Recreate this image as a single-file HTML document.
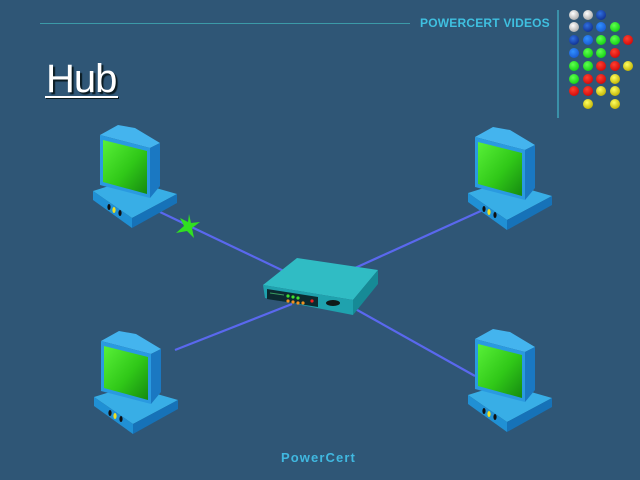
<!DOCTYPE html>
<html><head><meta charset="utf-8">
<style>
html,body{margin:0;padding:0;}
body{width:640px;height:480px;overflow:hidden;background:#2f5676;position:relative;font-family:"Liberation Sans",sans-serif;}
svg{position:absolute;left:0;top:0;}
.title{position:absolute;left:46px;top:55px;font-size:40px;letter-spacing:-1px;color:#ffffff;text-shadow:2px 2px 1px #0a1a20;line-height:48px;}
.uline{position:absolute;left:45px;top:96px;width:73px;height:2px;background:#fff;box-shadow:1px 1px 0 #0a1a20;}
.brand{position:absolute;left:420px;top:16px;font-size:12px;font-weight:bold;color:#3fc0e0;letter-spacing:0.2px;line-height:14px;}
.foot{position:absolute;left:281px;top:450px;font-size:13px;font-weight:bold;color:#40b8e0;letter-spacing:1.1px;line-height:15px;}
</style></head>
<body>
<svg width="640" height="480" viewBox="0 0 640 480">
<defs>
<linearGradient id="scr" x1="0" y1="0" x2="1" y2="1">
<stop offset="0" stop-color="#58f038"/>
<stop offset="0.55" stop-color="#30c818"/>
<stop offset="1" stop-color="#158a10"/>
</linearGradient>
<radialGradient id="dw" cx="0.4" cy="0.35" r="0.7"><stop offset="0" stop-color="#ffffff"/><stop offset="1" stop-color="#a8a8a8"/></radialGradient>
<radialGradient id="db" cx="0.4" cy="0.35" r="0.7"><stop offset="0" stop-color="#3070e0"/><stop offset="1" stop-color="#103090"/></radialGradient>
<radialGradient id="dl" cx="0.4" cy="0.35" r="0.7"><stop offset="0" stop-color="#3090ff"/><stop offset="1" stop-color="#1858d0"/></radialGradient>
<radialGradient id="dg" cx="0.4" cy="0.35" r="0.7"><stop offset="0" stop-color="#60ff50"/><stop offset="1" stop-color="#10d010"/></radialGradient>
<radialGradient id="dr" cx="0.4" cy="0.35" r="0.7"><stop offset="0" stop-color="#ff4030"/><stop offset="1" stop-color="#d00808"/></radialGradient>
<radialGradient id="dy" cx="0.4" cy="0.35" r="0.7"><stop offset="0" stop-color="#ffff60"/><stop offset="1" stop-color="#c0b000"/></radialGradient>
<g id="pc">
<polygon points="13,71 48,60 97,74 52,98" fill="#38aee6"/>
<polygon points="13,71 52,98 52,108 13,80" fill="#2090d4"/>
<polygon points="52,98 97,74 97,83 52,108" fill="#1672b8"/>
<polygon points="20,15 38,5 55,8 80,23 70,28" fill="#44b4ee"/>
<polygon points="70,28 80,23 80,66 70,78" fill="#1a78c2"/>
<polygon points="20,15 70,28 70,78 20,65" fill="#2a9ae0"/>
<polygon points="23,20 67,31 67,74 23,62" fill="url(#scr)"/>
<ellipse cx="29" cy="87" rx="1.6" ry="3" fill="#101010"/>
<ellipse cx="34" cy="90" rx="1.6" ry="3" fill="#f0e020"/>
<ellipse cx="40" cy="93" rx="1.6" ry="3" fill="#101010"/>
</g>
</defs>
<line x1="40" y1="23.5" x2="410" y2="23.5" stroke="#3c9aa8" stroke-width="1"/>
<line x1="558" y1="10" x2="558" y2="118" stroke="#3a90a8" stroke-width="2"/>
<g>
<circle cx="574" cy="15" r="5" fill="url(#dw)"/>
<circle cx="588" cy="15" r="5" fill="url(#dw)"/>
<circle cx="601" cy="15" r="5" fill="url(#db)"/>
<circle cx="574" cy="27" r="5" fill="url(#dw)"/>
<circle cx="588" cy="27" r="5" fill="url(#db)"/>
<circle cx="601" cy="27" r="5" fill="url(#dl)"/>
<circle cx="615" cy="27" r="5" fill="url(#dg)"/>
<circle cx="574" cy="40" r="5" fill="url(#db)"/>
<circle cx="588" cy="40" r="5" fill="url(#dl)"/>
<circle cx="601" cy="40" r="5" fill="url(#dg)"/>
<circle cx="615" cy="40" r="5" fill="url(#dg)"/>
<circle cx="628" cy="40" r="5" fill="url(#dr)"/>
<circle cx="574" cy="53" r="5" fill="url(#dl)"/>
<circle cx="588" cy="53" r="5" fill="url(#dg)"/>
<circle cx="601" cy="53" r="5" fill="url(#dg)"/>
<circle cx="615" cy="53" r="5" fill="url(#dr)"/>
<circle cx="574" cy="66" r="5" fill="url(#dg)"/>
<circle cx="588" cy="66" r="5" fill="url(#dg)"/>
<circle cx="601" cy="66" r="5" fill="url(#dr)"/>
<circle cx="615" cy="66" r="5" fill="url(#dr)"/>
<circle cx="628" cy="66" r="5" fill="url(#dy)"/>
<circle cx="574" cy="79" r="5" fill="url(#dg)"/>
<circle cx="588" cy="79" r="5" fill="url(#dr)"/>
<circle cx="601" cy="79" r="5" fill="url(#dr)"/>
<circle cx="615" cy="79" r="5" fill="url(#dy)"/>
<circle cx="574" cy="91" r="5" fill="url(#dr)"/>
<circle cx="588" cy="91" r="5" fill="url(#dr)"/>
<circle cx="601" cy="91" r="5" fill="url(#dy)"/>
<circle cx="615" cy="91" r="5" fill="url(#dy)"/>
<circle cx="588" cy="104" r="5" fill="url(#dy)"/>
<circle cx="615" cy="104" r="5" fill="url(#dy)"/>
</g>
<g stroke="#5a68ee" stroke-width="2.2">
<line x1="160" y1="212" x2="290" y2="274"/>
<line x1="483" y1="210" x2="355" y2="268"/>
<line x1="175" y1="350" x2="292" y2="304"/>
<line x1="475" y1="376" x2="350" y2="306"/>
</g>
<use href="#pc" x="80" y="120"/>
<use href="#pc" x="455" y="122"/>
<use href="#pc" x="81" y="326"/>
<use href="#pc" x="455" y="324"/>
<polygon points="189,214 191,223 200,222 192,228 194,238 187,231 176,233 184,226 180,218 188,222" fill="#30e020"/>
<polygon points="263,285 297,258 378,270 353,300" fill="#30bcc4"/>
<polygon points="263,285 353,300 353,315 265,298" fill="#1fa2ae"/>
<polygon points="353,300 378,270 378,284 353,315" fill="#168a96"/>
<polygon points="267,289 318,297 318,307 267,299" fill="#0c2a30"/>
<circle cx="288" cy="296" r="1.6" fill="#40e030"/>
<circle cx="293" cy="297" r="1.6" fill="#40e030"/>
<circle cx="298" cy="298" r="1.6" fill="#40e030"/>
<circle cx="288" cy="301" r="1.6" fill="#f09020"/>
<circle cx="293" cy="302" r="1.6" fill="#f09020"/>
<circle cx="298" cy="303" r="1.6" fill="#f09020"/>
<circle cx="303" cy="303" r="1.6" fill="#f09020"/>
<circle cx="312" cy="301" r="1.6" fill="#f02020"/>
<line x1="270" y1="293" x2="284" y2="295" stroke="#3a9a60" stroke-width="1"/>
<ellipse cx="333" cy="303" rx="7" ry="3" fill="#101818"/>
</svg>
<div class="brand">POWERCERT VIDEOS</div>
<div class="title">Hub</div>
<div class="uline"></div>
<div class="foot">PowerCert</div>
</body></html>
